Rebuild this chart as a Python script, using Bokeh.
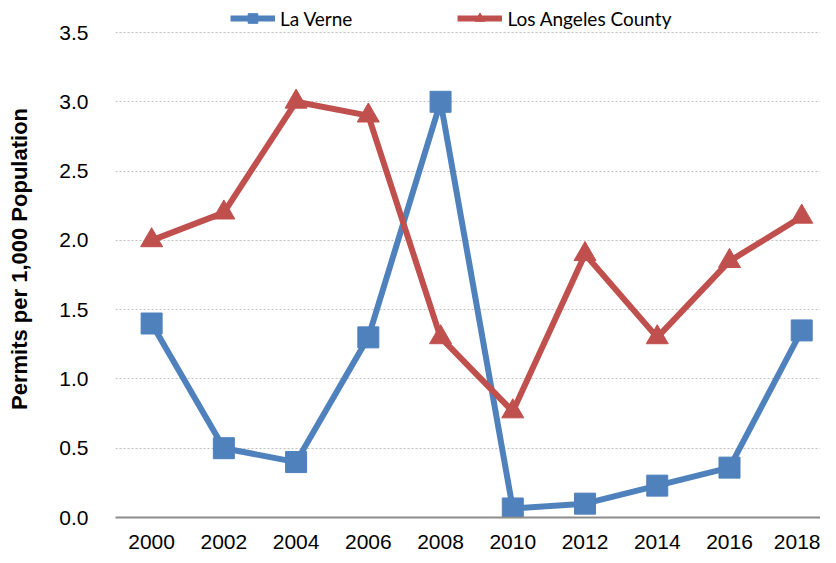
from bokeh.plotting import figure
from bokeh.layouts import row
from bokeh.models import FixedTicker, Range1d, Legend, LegendItem, CustomJSTickFormatter, Spacer
from bokeh.embed import file_html
from bokeh.resources import INLINE

years = [2000, 2002, 2004, 2006, 2008, 2010, 2012, 2014, 2016, 2018]
la_verne = [1.40, 0.50, 0.40, 1.30, 3.00, 0.065, 0.10, 0.23, 0.36, 1.35]
la_county = [2.00, 2.20, 3.00, 2.90, 1.30, 0.765, 1.90, 1.30, 1.85, 2.17]
y_ticks = [0.0, 0.5, 1.0, 1.5, 2.0, 2.5, 3.0, 3.5]

BLUE = "#4F81BD"
RED = "#C0504D"

p = figure(width=816, height=555, output_backend="svg", toolbar_location=None,
           x_range=Range1d(1999, 2018.52), y_range=Range1d(0, 3.731),
           min_border_left=0, min_border_right=0, min_border_top=0, min_border_bottom=38)
p.outline_line_color = None
p.background_fill_color = "white"

r1l = p.line(years, la_verne, line_color=BLUE, line_width=6)
r1m = p.scatter(years, la_verne, marker="square", size=21, fill_color=BLUE, line_color=BLUE)
r2l = p.line(years, la_county, line_color=RED, line_width=6)
r2m = p.scatter(years, la_county, marker="triangle", size=22, fill_color=RED, line_color=RED)

# axes
p.xaxis.ticker = FixedTicker(ticks=years)
p.xaxis.major_tick_line_color = None
p.xaxis.minor_tick_line_color = None
p.xaxis.axis_line_color = "#8C8C8C"
p.xaxis.axis_line_width = 2
p.xaxis.major_label_text_font = "Liberation Sans"
p.xaxis.major_label_text_font_size = "21px"
p.xaxis.major_label_text_color = "black"
p.xaxis.major_label_standoff = 11

p.yaxis.ticker = FixedTicker(ticks=y_ticks)
p.yaxis.formatter = CustomJSTickFormatter(code="return tick.toFixed(1);")
p.yaxis.major_tick_line_color = None
p.yaxis.minor_tick_line_color = None
p.yaxis.axis_line_color = None
p.yaxis.major_label_text_font = "Liberation Sans"
p.yaxis.major_label_text_font_size = "21px"
p.yaxis.major_label_text_color = "black"
p.yaxis.major_label_standoff = 21
p.yaxis.axis_label = "Permits per 1,000 Population"
p.yaxis.axis_label_text_font = "Liberation Sans"
p.yaxis.axis_label_text_font_style = "bold"
p.yaxis.axis_label_text_font_size = "22px"
p.yaxis.axis_label_text_color = "black"
p.yaxis.axis_label_standoff = 24

p.xgrid.grid_line_color = None
p.ygrid.grid_line_color = "#BFBFBF"
p.ygrid.grid_line_dash = "2 2"
p.ygrid.grid_line_width = 1

legend = Legend(items=[LegendItem(label="La Verne", renderers=[r1l, r1m]),
                       LegendItem(label="Los Angeles County", renderers=[r2l, r2m])],
                orientation="horizontal", location=(115, 487),
                glyph_width=45, glyph_height=24, label_height=24,
                label_standoff=5, spacing=105, padding=0, margin=0,
                label_text_font="Lato", label_text_font_size="19px",
                label_text_color="black", border_line_color=None,
                background_fill_alpha=0)
p.add_layout(legend)

layout = row(Spacer(width=4, height=555), p, spacing=0)

open("out.html", "w").write(file_html(layout, INLINE))
